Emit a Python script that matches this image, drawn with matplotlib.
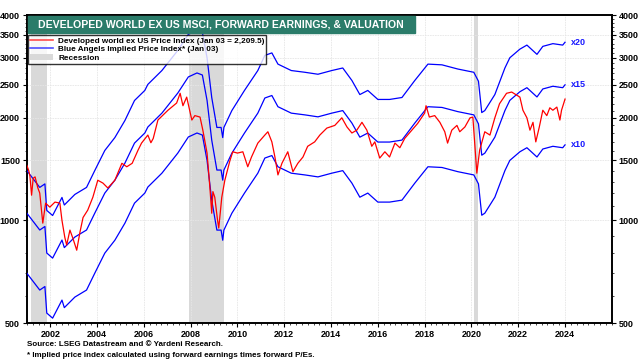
import matplotlib
matplotlib.use("Agg")
import matplotlib.pyplot as plt
import numpy as np
from matplotlib.lines import Line2D
from matplotlib.patches import Patch, Rectangle
import matplotlib.ticker as mticker

plt.rcParams['font.family'] = ['Liberation Sans', 'DejaVu Sans']

# Forward earnings (scaled so that x10 multiple gives the lower blue line)
eps_dates = [2001.0, 2001.55, 2001.77, 2001.85, 2002.1, 2002.5, 2002.6, 2003.05, 2003.55,
             2003.9, 2004.33, 2004.76, 2005.19, 2005.6, 2006.04, 2006.17, 2006.77, 2007.45,
             2007.9, 2008.27, 2008.5, 2008.7, 2008.9, 2009.12, 2009.3, 2009.37, 2009.42,
             2009.76, 2010.3, 2010.87, 2011.17, 2011.47, 2011.73, 2012.3, 2012.88, 2013.44,
             2014.03, 2014.5, 2014.89, 2015.23, 2015.57, 2016.0, 2016.5, 2017.03, 2017.58,
             2018.14, 2018.74, 2019.42, 2020.1, 2020.3, 2020.44, 2020.57, 2021.0, 2021.43,
             2021.64, 2022.07, 2022.37, 2022.8, 2023.05, 2023.48, 2023.9, 2024.0]
eps_vals = [70.0, 62.5, 64.0, 53.5, 51.7, 58.4, 55.5, 59.6, 62.5,
            70.0, 80.2, 87.5, 98.2, 112.4, 120.3, 125.3, 137.6, 157.6,
            175.7, 180.5, 178.0, 150.0, 114.7, 93.7, 93.7, 87.5, 93.7,
            105.0, 120.3, 137.6, 152.4, 155.0, 143.7, 137.6, 136.0, 134.2,
            137.6, 140.0, 128.7, 117.0, 120.3, 113.2, 113.2, 114.7, 128.7,
            143.7, 143.0, 139.0, 136.0, 128.0, 103.6, 105.0, 117.0, 140.0,
            150.0, 159.0, 163.4, 153.5, 162.0, 165.0, 163.4, 166.6]
multiples = [10, 15, 20]
multiple_labels = ['x10', 'x15', 'x20']

# Developed world ex US price index
px_dates = [2001.0, 2001.08, 2001.13, 2001.2, 2001.27, 2001.35, 2001.47, 2001.55, 2001.68,
            2001.8, 2001.98, 2002.2, 2002.41, 2002.5, 2002.62, 2002.7, 2002.84, 2002.97,
            2003.13, 2003.27, 2003.4, 2003.6, 2003.82, 2004.03, 2004.25, 2004.46, 2004.76,
            2005.06, 2005.27, 2005.5, 2005.75, 2005.9, 2006.17, 2006.3, 2006.4, 2006.6,
            2007.03, 2007.4, 2007.55, 2007.67, 2007.83, 2008.05, 2008.18, 2008.4, 2008.52,
            2008.7, 2008.82, 2008.9, 2008.95, 2009.03, 2009.15, 2009.2, 2009.33, 2009.46,
            2009.68, 2009.8, 2010.0, 2010.23, 2010.44, 2010.6, 2010.87, 2011.17, 2011.3,
            2011.47, 2011.6, 2011.73, 2011.9, 2012.15, 2012.37, 2012.58, 2012.8, 2013.0,
            2013.3, 2013.52, 2013.82, 2014.16, 2014.46, 2014.68, 2014.89, 2015.1, 2015.32,
            2015.53, 2015.74, 2015.87, 2016.08, 2016.3, 2016.5, 2016.73, 2016.94, 2017.15,
            2017.45, 2017.7, 2018.0, 2018.06, 2018.2, 2018.43, 2018.65, 2018.86, 2018.98,
            2019.16, 2019.38, 2019.5, 2019.72, 2019.94, 2020.06, 2020.19, 2020.23, 2020.35,
            2020.57, 2020.79, 2021.0, 2021.2, 2021.5, 2021.72, 2021.94, 2022.07, 2022.2,
            2022.37, 2022.5, 2022.63, 2022.75, 2022.9, 2023.05, 2023.22, 2023.35, 2023.48,
            2023.65, 2023.78, 2023.85, 2024.0]
px_vals = [1450, 1400, 1350, 1186, 1330, 1342, 1245, 1203, 982,
           1124, 1094, 1132, 1124, 1000, 893, 847, 937, 885,
           818, 925, 1020, 1072, 1170, 1312, 1287, 1245, 1312,
           1471, 1437, 1471, 1607, 1686, 1780, 1690, 1740, 1970,
           2105, 2210, 2360, 2170, 2300, 1970, 2030, 2010, 1840,
           1576, 1253, 1050, 1215, 1170, 1000, 950, 1170, 1312,
           1500, 1590, 1576, 1590, 1437, 1535, 1686, 1780, 1820,
           1700, 1535, 1360, 1471, 1590, 1390, 1471, 1535, 1650,
           1700, 1780, 1866, 1900, 2000, 1880, 1805, 1840, 1940,
           1840, 1650, 1700, 1524, 1590, 1535, 1686, 1634, 1741,
           1840, 1925, 2065, 2170, 2010, 2030, 1940, 1820, 1686,
           1840, 1900, 1820, 1880, 2000, 2010, 1500, 1376, 1607,
           1820, 1780, 2000, 2200, 2360, 2380, 2330, 2300, 2105,
           2000, 1840, 1940, 1700, 1880, 2105, 2030, 2140, 2105,
           2150, 1970, 2105, 2270]

recessions = [(2001.17, 2001.87), (2007.92, 2009.42), (2020.1, 2020.3)]

yticks = [500, 1000, 1500, 2000, 2500, 3000, 3500, 4000]
xticks = list(range(2002, 2025, 2))

fig = plt.figure(figsize=(6.4, 3.61), dpi=100)
ax = fig.add_axes([0.042, 0.105, 0.914, 0.853])

ax.set_yscale('log')
ax.set_ylim(500, 4000)
ax.set_xlim(2001.0, 2026.0)

for s, e in recessions:
    ax.axvspan(s, e, color='#d9d9d9', lw=0, zorder=1)

eps = np.array(eps_vals)
for m, lab in zip(multiples, multiple_labels):
    ax.plot(eps_dates, eps * m, color='#0000ff', lw=0.9, zorder=3)
    ax.text(eps_dates[-1] + 0.25, eps[-1] * m, lab, color='#1a1aff', fontsize=6.5,
            fontweight='bold', va='center', ha='left', zorder=5)

ax.plot(px_dates, px_vals, color='#ff0000', lw=0.9, zorder=4)

ax.yaxis.set_major_locator(mticker.FixedLocator(yticks))
ax.yaxis.set_major_formatter(mticker.FixedFormatter([str(v) for v in yticks]))
ax.yaxis.set_minor_locator(mticker.FixedLocator(list(range(600, 4000, 100))))
ax.yaxis.set_minor_formatter(mticker.NullFormatter())
ax.set_xticks(xticks)
ax.set_xticklabels([str(x) for x in xticks])
ax.xaxis.set_minor_locator(mticker.MultipleLocator(0.25))

ax.tick_params(axis='y', which='both', left=True, right=True, labelleft=True, labelright=True,
               direction='out', labelsize=6.5)
ax.tick_params(axis='y', which='major', length=3, width=0.8)
ax.tick_params(axis='y', which='minor', length=1.5, width=0.5)
ax.tick_params(axis='x', which='major', length=3, width=0.8, labelsize=6.5, direction='out')
ax.tick_params(axis='x', which='minor', length=1.5, width=0.5, direction='out')
ax.tick_params(axis='both', pad=2)
for lbl in ax.get_xticklabels() + ax.get_yticklabels():
    lbl.set_fontweight('bold')
for t in ax.yaxis.get_major_ticks():
    t.label1.set_fontweight('bold')
    t.label2.set_fontweight('bold')

ax.grid(True, which='major', color='#e6e6e6', lw=0.6, ls=(0, (2, 1)), zorder=0)
for sp in ax.spines.values():
    sp.set_linewidth(1.4)
    sp.set_color('black')

# Title box (figure pixel coords -> axes fraction)
def ax_frac(px, py):
    return ((px - 27) / 585.0, (323 - py) / 308.0)

x0, y0 = ax_frac(28, 33)
x1, y1 = ax_frac(415, 16)
ax.add_patch(Rectangle((x0, y0), x1 - x0, y1 - y0, transform=ax.transAxes,
                       facecolor='#2b7c6a', edgecolor='#2b7c6a', zorder=10, clip_on=False))
ax.text((x0 + x1) / 2, (y0 + y1) / 2, 'DEVELOPED WORLD EX US MSCI, FORWARD EARNINGS, & VALUATION',
        transform=ax.transAxes, ha='center', va='center', color='white', fontsize=7.6,
        fontweight='bold', zorder=11)

handles = [Line2D([], [], color='#ff4d4d', lw=1.2),
           Line2D([], [], color='#4d4dff', lw=1.2),
           Patch(facecolor='#d9d9d9', edgecolor='none')]
labels = ['Developed world ex US Price Index (Jan 03 = 2,209.5)',
          'Blue Angels Implied Price Index* (Jan 03)',
          'Recession']
lx, ly = ax_frac(28, 35)
leg = ax.legend(handles, labels, loc='upper left', bbox_to_anchor=(lx, ly),
                prop={'size': 5.9, 'weight': 'bold'}, frameon=True, fancybox=False,
                borderpad=0.2, labelspacing=0.12, handlelength=2.9, handletextpad=0.6,
                borderaxespad=0)
leg.get_frame().set_edgecolor('black')
leg.get_frame().set_linewidth(1.0)
leg.set_zorder(10)

fig.text(0.042, 0.045, 'Source: LSEG Datastream and \u00a9 Yardeni Research.', fontsize=5.8,
         fontweight='bold', ha='left', va='center')
fig.text(0.042, 0.014, '* Implied price index calculated using forward earnings times forward P/Es.',
         fontsize=5.8, fontweight='bold', ha='left', va='center')

fig.savefig('out.png', dpi=100)
